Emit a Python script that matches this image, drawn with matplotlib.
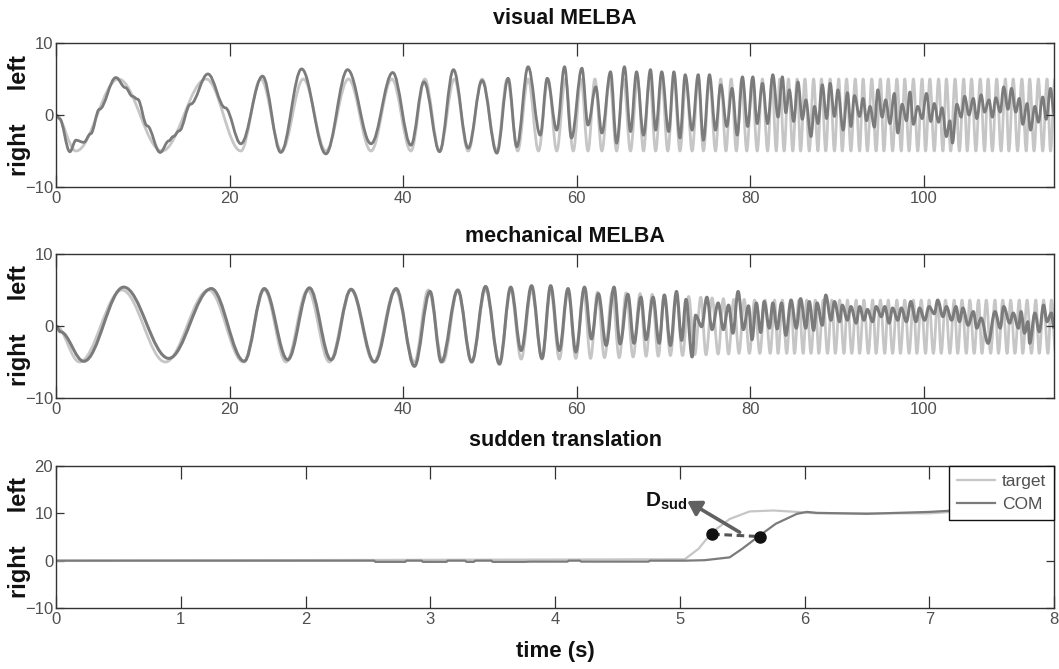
import matplotlib
matplotlib.use("Agg")
import matplotlib.pyplot as plt
from matplotlib.path import Path
from matplotlib.patches import PathPatch

# ---------------- data ----------------
# Panel 1 "visual MELBA": target extrema times (first point 0, then trough, peak, ...)
tgt1_t = [0, 2.3, 7.2, 12.2, 17.3, 21.3, 23.6, 26.0, 28.5, 31.1, 33.7, 36.3, 38.7, 40.9,
          42.5, 44.2, 45.9, 47.5, 49.1, 50.8, 52.0, 53.2, 54.4, 55.6, 56.7, 57.7, 58.7,
          59.6, 60.5, 61.3, 62.1, 62.9, 63.8, 64.6, 65.4, 66.2, 67.0, 67.7, 68.4, 69.1,
          69.8, 70.5, 71.2, 71.9, 72.6, 73.3, 74.0, 74.6, 75.3, 76.0, 76.6, 77.2, 77.8,
          78.4, 79.0, 79.6, 80.2, 80.8, 81.4, 82.0, 82.5, 83.0, 83.4, 83.9, 84.4, 84.9,
          85.4, 85.8, 86.3, 86.8, 87.3, 87.8, 88.2, 88.7, 89.2, 89.7, 90.2, 90.6, 91.1,
          91.6, 92.1, 92.6, 93.0, 93.5, 94.0, 94.5, 95.0, 95.4, 95.9, 96.4, 96.9, 97.4,
          97.8, 98.3, 98.8, 99.3, 99.8, 100.2, 100.7, 101.2, 101.7, 102.2, 102.6, 103.1,
          103.6, 104.1, 104.6, 105.0, 105.5, 106.0, 106.5, 107.0, 107.4, 107.9, 108.4,
          108.9, 109.4, 109.8, 110.3, 110.8, 111.3, 111.8, 112.2, 112.7, 113.2, 113.7,
          114.2, 114.6, 115.1]
tgt1_amp = 5.0

com1_t = [0, 0.4, 1.6, 2.3, 3.2, 4.0, 5.0, 6.9, 8.0, 8.8, 9.4, 10.5, 12.0, 13.0, 13.5,
          14.2, 15.5, 17.5, 19.5, 21.3, 23.8, 25.9, 28.3, 31.1, 33.6, 36.3, 38.8, 40.9,
          42.4, 44.2, 45.8, 47.5, 49.1, 50.8, 52.1, 53.1, 54.4, 55.8, 56.6, 57.7, 58.6,
          59.4, 60.6, 61.3, 62.2, 62.9, 63.9, 64.6, 65.5, 66.2, 66.9, 67.7, 68.5, 69.1,
          69.8, 70.6, 71.2, 71.9, 72.5, 73.3, 74.0, 74.6, 75.3, 76.0, 76.6, 77.3, 77.9,
          78.5, 79.1, 79.7, 80.3, 80.8, 81.4, 82.0, 82.6, 83.2, 83.7, 84.1, 84.5, 85.0,
          85.5, 86.0, 86.4, 87.0, 87.4, 87.8, 88.3, 88.8, 89.2, 89.7, 90.1, 90.7, 91.2,
          91.6, 92.0, 92.6, 93.0, 93.4, 93.8, 94.3, 94.7, 95.2, 95.6, 96.1, 96.6, 97.0,
          97.5, 98.0, 98.4, 98.8, 99.3, 99.8, 100.3, 100.8, 101.2, 101.7, 102.1, 102.6,
          103.0, 103.3, 103.8, 104.3, 104.7, 105.2, 105.7, 106.1, 106.6, 107.0, 107.5,
          107.9, 108.3, 108.8, 109.2, 109.7, 110.1, 110.6, 111.0, 111.4, 111.9, 112.3,
          112.8, 113.2, 113.7, 114.1, 114.6, 115.0, 115.3]
com1_v = [0, -0.5, -5.1, -3.5, -3.8, -2.6, 0.8, 5.2, 3.8, 2.6, 2.2, -1.5, -5.2, -3.6, -3.0,
          -2.2, 1.5, 5.7, 1.0, -4.0, 5.4, -5.2, 6.4, -5.4, 6.3, -4.0, 5.9, -4.2,
          4.6, -5.1, 6.3, -4.6, 4.8, -5.3, 5.1, -4.4, 6.7, -2.8, 5.1, -2.1, 6.7,
          -3.2, 6.5, -1.4, 3.9, -2.5, 6.0, -3.9, 6.7, -2.3, 6.0, -2.8, 6.3, -2.1,
          6.0, -2.3, 6.0, -3.2, 5.6, -2.1, 5.6, -3.5, 5.6, -2.1, 4.2, -1.6, 3.7,
          -2.8, 5.3, -1.6, 5.3, -1.2, 4.4, -1.2, 5.6, -0.3, 5.3, 0.3, 3.5, -0.9,
          4.6, -0.6, 2.1, -3.0, 1.2, -1.2, 4.2, -0.5, 4.4, -0.2, 3.5, -2.1, 3.1,
          -1.6, 2.7, -0.2, 2.3, -0.8, 1.2, -1.7, 3.5, -0.3, 2.1, -1.2, 3.0, -2.5,
          1.5, -0.8, 3.2, -1.3, 1.2, -0.5, 3.0, -0.9, 1.6, -1.0, 1.0, -3.0,
          -0.8, -3.9, 1.5, -0.3, 2.6, 0.0, 2.3, -0.5, 2.8, 0.4, 2.1,
          -0.3, 2.4, 0.4, 3.9, 0.8, 3.7, 0.4, 2.3, -1.3, 1.6, -2.1,
          1.2, -1.0, 2.5, -0.6, 3.7, 0.2, -0.5]

# Panel 2 "mechanical MELBA"
tgt2_t = [0, 2.7, 7.6, 12.6, 17.6, 21.6, 24.0, 26.5, 29.0, 31.5, 34.0, 36.6, 39.1, 41.3,
          42.9, 44.6, 46.3, 47.9, 49.5, 51.1, 52.4, 53.6, 54.8, 56.0, 57.0, 58.0, 59.0,
          59.9, 60.8, 61.6, 62.4, 63.2, 64.1, 64.9, 65.7, 66.5, 67.3, 68.0, 68.7, 69.4,
          70.1, 70.8, 71.5, 72.2, 72.9, 73.6, 74.3, 74.9, 75.6, 76.3, 76.9, 77.5, 78.1,
          78.7, 79.3, 79.9, 80.5, 81.1, 81.7, 82.3, 82.8, 83.2, 83.7, 84.2, 84.7, 85.1,
          85.6, 86.1, 86.5, 87.0, 87.5, 87.9, 88.4, 88.9, 89.4, 89.8, 90.3, 90.8, 91.2,
          91.7, 92.2, 92.6, 93.1, 93.6, 94.1, 94.5, 95.0, 95.5, 95.9, 96.4, 96.9, 97.3,
          97.8, 98.3, 98.8, 99.2, 99.7, 100.2, 100.6, 101.1, 101.6, 102.0, 102.5, 103.0,
          103.5, 103.9, 104.4, 104.9, 105.3, 105.8, 106.3, 106.7, 107.2, 107.7, 108.2,
          108.6, 109.1, 109.6, 110.0, 110.5, 111.0, 111.4, 111.9, 112.4, 112.9, 113.3,
          113.8, 114.3, 114.7, 115.2]
tgt2_v = ([0, -5, 5, -5, 5, -5, 5, -5, 5, -5, 5, -5, 5, -5, 5, -5, 5, -5, 5, -5,
           5.0, -4.6, 5.0, -4.6, 5.0, -4.6, 5.0, -4.5, 4.9, -4.5,
           4.7, -4.4, 4.7, -4.4, 4.6, -4.3, 4.5, -4.2, 4.4, -4.2, 4.3, -4.1, 4.2, -4.1,
           4.1, -4.0, 4.0, -4.0, 3.9, -3.9, 3.8, -3.9, 3.7, -3.8, 3.7, -3.8, 3.6, -3.8,
           3.6, -3.8] + [3.6, -3.8] * 35)

com2_t = [0, 0.5, 3.2, 7.8, 13.0, 17.9, 21.7, 24.0, 26.7, 29.2, 31.7, 34.0, 36.7, 39.2,
          41.3, 43.1, 44.4, 46.3, 47.9, 49.5, 51.1, 52.4, 53.6, 54.8, 56.0, 57.0, 58.0,
          59.0, 59.9, 60.9, 61.7, 62.5, 63.4, 64.3, 65.0, 65.9, 66.6, 67.4, 68.0, 68.8,
          69.5, 70.1, 70.8, 71.5, 72.1, 72.6, 73.3, 73.7, 74.4, 75.0, 75.6, 76.3, 76.9,
          77.5, 78.0, 78.6, 79.2, 79.8, 80.2, 80.7, 81.2, 81.6, 82.2, 82.6, 83.1, 83.6,
          84.1, 84.7, 85.3, 85.8, 86.4, 86.8, 87.3, 87.7, 88.3, 88.7, 89.3, 89.7, 90.3,
          90.6, 91.2, 91.6, 92.2, 92.6, 93.1, 93.5, 94.1, 94.5, 95.1, 95.5, 96.0, 96.4,
          97.0, 97.4, 98.0, 98.5, 99.1, 99.5, 100.1, 100.6, 101.2, 101.6, 102.2, 102.6,
          103.2, 103.7, 104.1, 104.5, 105.1, 105.7, 106.1, 106.6, 107.4, 108.2, 108.8,
          109.2, 109.9, 110.3, 110.9, 111.2, 111.6, 112.0, 112.2, 112.8, 113.3, 113.8,
          114.2, 114.7, 115.0]
com2_v = [0, -0.8, -4.9, 5.4, -4.5, 5.2, -4.9, 5.2, -4.7, 5.3, -4.7, 5.1, -5.0, 5.2,
          -5.6, 4.8, -5.0, 5.0, -5.0, 5.5, -5.3, 5.4, -3.4, 5.6, -4.5, 5.6, -3.4,
          5.2, -3.6, 5.4, -1.8, 4.5, -2.7, 5.4, -2.5, 4.4, -2.4, 4.0, -1.9, 4.0,
          -2.4, 4.3, -2.7, 4.8, -2.0, 3.7, -4.3, 1.5, -0.1, 4.0, -0.5, 3.2, -0.5,
          2.9, -1.0, 4.8, -0.5, 2.8, -1.9, 3.2, -0.9, 3.4, -0.3, 3.2, -0.4, 3.2,
          -1.3, 3.6, -0.3, 3.8, -0.3, 3.4, -0.6, 3.2, 0.1, 4.3, 0.8, 3.4, 0.6,
          2.9, 0.8, 2.7, 0.4, 2.7, 0.8, 2.3, 0.6, 2.7, 1.3, 2.7, 0.4, 2.5,
          0.8, 2.5, 0.6, 3.4, 0.6, 2.5, 0.8, 2.7, 1.7, 3.6, 1.3, 2.7,
          0.8, 2.7, 0.6, 2.5, 0.1, 2.0, -0.3, 1.1, -2.4, 2.0, -0.3,
          2.7, 0.4, 1.8, -0.3, 2.0, -1.0, 0.6, -2.4, 1.8, -0.8, 2.9,
          0.6, 1.8, -0.3]

# Panel 3 "sudden translation"
tgt3_t = [0, 5.04, 5.15, 5.26, 5.40, 5.56, 5.75, 5.94, 6.10, 7.00, 7.30, 8.00]
tgt3_v = [0, 0.3, 2.5, 6.0, 8.8, 10.4, 10.6, 10.3, 10.0, 10.0, 10.5, 10.6]
com3_t = [0, 2.55, 2.56, 2.80, 2.81, 2.93, 2.94, 3.13, 3.14, 3.28, 3.29, 3.35, 3.36,
          3.49, 3.50, 3.75, 3.80, 4.10, 4.11, 4.20, 4.21, 4.75, 4.76, 5.04, 5.20, 5.40,
          5.50, 5.64, 5.77, 5.94, 6.02, 6.10, 6.50, 7.00, 7.20, 8.00]
com3_v = [0, 0, -0.25, -0.25, 0, 0, -0.25, -0.25, 0, 0, -0.25, -0.25, 0,
          0, -0.25, -0.25, -0.2, -0.2, 0, 0, -0.2, -0.2, 0, 0, 0.1, 0.7,
          2.5, 5.3, 7.8, 9.9, 10.3, 10.1, 9.9, 10.3, 10.6, 10.7]
dots_t = [5.26, 5.64]
dots_v = [5.6, 5.1]
arrow_from = (5.48, 6.0)
arrow_to = (5.06, 12.6)
dsud_pos = (4.72, 11.5)

panel_titles = ["visual MELBA", "mechanical MELBA", "sudden translation"]
xticks12 = [0, 20, 40, 60, 80, 100]
xticks3 = [0, 1, 2, 3, 4, 5, 6, 7, 8]
legend_labels = ["target", "COM"]

# ---------------- styling ----------------
LIGHT = "#c6c6c6"
DARK = "#7b7b7b"
AXC = "#333333"
plt.rcParams["mathtext.fontset"] = "custom"
plt.rcParams["mathtext.bf"] = "Liberation Sans:bold"
plt.rcParams["mathtext.rm"] = "Liberation Sans"
plt.rcParams["mathtext.it"] = "Liberation Sans:italic"
TICKFONT = ["Liberation Sans", "DejaVu Sans"]
BOLDFONT = ["Liberation Sans", "DejaVu Sans"]


def smooth_path(t, v, k=0.36):
    verts = [(t[0], v[0])]
    codes = [Path.MOVETO]
    for i in range(len(t) - 1):
        dt = t[i + 1] - t[i]
        verts += [(t[i] + k * dt, v[i]), (t[i + 1] - k * dt, v[i + 1]), (t[i + 1], v[i + 1])]
        codes += [Path.CURVE4] * 3
    return Path(verts, codes)


def alt_values(times, amp):
    vals = [0.0]
    for i in range(1, len(times)):
        vals.append(-amp if i % 2 == 1 else amp)
    return vals


W, H = 1059, 669
fig = plt.figure(figsize=(W / 100, H / 100), dpi=100)
left = 56 / W
width = 998 / W
boxes = [(43, 187), (254, 398), (466, 608)]
axes = []
for (top, bot) in boxes:
    ax = fig.add_axes([left, 1 - bot / H, width, (bot - top) / H])
    axes.append(ax)


def style_axis(ax, xticks, yticks):
    ax.set_xticks(xticks)
    ax.set_yticks(yticks)
    ax.tick_params(axis="both", direction="in", top=True, right=True, colors=AXC,
                   labelcolor="#505050", labelsize=12, width=0.9)
    ax.tick_params(axis="x", length=9, pad=3)
    ax.tick_params(axis="y", length=6, pad=2)
    for lab in ax.get_xticklabels() + ax.get_yticklabels():
        lab.set_family(TICKFONT)
    for sp in ax.spines.values():
        sp.set_color(AXC)
        sp.set_linewidth(1.0)
    ax.set_ylabel("right     left", fontsize=17, fontweight="bold", family=BOLDFONT,
                  color="#111111")
    ax.yaxis.set_label_coords(-0.025, 0.5)


# Panel 1
ax = axes[0]
p = smooth_path(tgt1_t, alt_values(tgt1_t, tgt1_amp))
ax.add_patch(PathPatch(p, fill=False, edgecolor=LIGHT, lw=2.0, joinstyle="round"))
p = smooth_path(com1_t, com1_v)
ax.add_patch(PathPatch(p, fill=False, edgecolor=DARK, lw=2.0, joinstyle="round"))
ax.set_xlim(0, 115)
ax.set_ylim(-10, 10)
style_axis(ax, xticks12, [-10, 0, 10])

# Panel 2
ax = axes[1]
p = smooth_path(tgt2_t, tgt2_v)
ax.add_patch(PathPatch(p, fill=False, edgecolor=LIGHT, lw=2.0, joinstyle="round"))
p = smooth_path(com2_t, com2_v)
ax.add_patch(PathPatch(p, fill=False, edgecolor=DARK, lw=2.2, joinstyle="round"))
ax.set_xlim(0, 115)
ax.set_ylim(-10, 10)
style_axis(ax, xticks12, [-10, 0, 10])

# Panel 3
ax = axes[2]
ax.plot(tgt3_t, tgt3_v, color=LIGHT, lw=1.6, label=legend_labels[0])
ax.plot(com3_t, com3_v, color=DARK, lw=1.6, label=legend_labels[1])
ax.set_xlim(0, 8)
ax.set_ylim(-10, 20)
style_axis(ax, xticks3, [-10, 0, 10, 20])
ax.plot(dots_t, dots_v, color="#555555", lw=2.2, ls=(0, (2.5, 1.5)), zorder=4)
ax.plot(dots_t, dots_v, "o", color="#111111", ms=8, zorder=5)
ax.annotate("", xy=arrow_to, xytext=arrow_from,
            arrowprops=dict(arrowstyle="-|>,head_length=0.8,head_width=0.5",
                            color="#606060", lw=2.6, shrinkA=0, shrinkB=0), zorder=6)
ax.text(dsud_pos[0], dsud_pos[1], r"$\mathbf{D}_{\mathbf{sud}}$", fontsize=15,
        color="#111111", ha="left", va="baseline")
leg = ax.legend(loc="upper right", borderaxespad=0.0, fancybox=False, framealpha=1,
                edgecolor="#111111", prop={"family": TICKFONT, "size": 12.5},
                handlelength=2.2, handletextpad=0.4, borderpad=0.45, labelspacing=0.45)
leg.get_frame().set_linewidth(1.0)
for txt in leg.get_texts():
    txt.set_color("#505050")
ax.set_xlabel("time (s)", fontsize=16, fontweight="bold", family=BOLDFONT,
              color="#111111", labelpad=10)

# titles
title_y = [19, 237, 441]
for ax, ttl, ty in zip(axes, panel_titles, title_y):
    fig.text(565 / W, 1 - ty / H, ttl, ha="center", va="center", fontsize=15.5,
             fontweight="bold", family=BOLDFONT, color="#111111")

fig.savefig("out.png", dpi=100)
